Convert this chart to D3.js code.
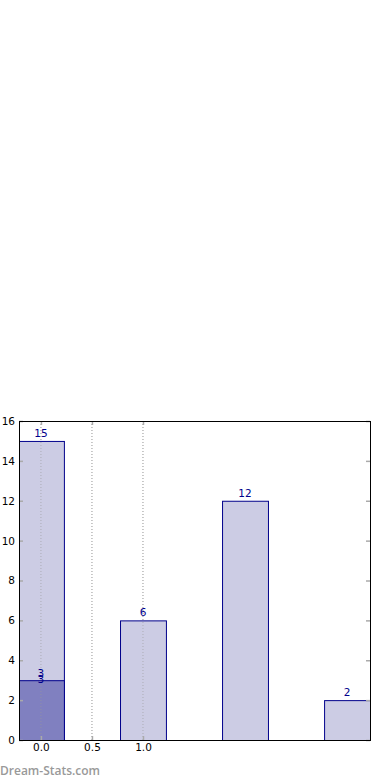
<!DOCTYPE html>
<html><head><meta charset="utf-8">
<script src="https://cdn.jsdelivr.net/npm/d3@7"></script>
<style>body{margin:0;background:#fff}svg{display:block}</style>
</head><body>
<script>
const categories = [0, 1, 2, 3];
const lightValues = [15, 6, 12, 2];
const darkCategories = [0];
const darkValues = [3];
const xTicks = [0.0, 0.5, 1.0];
const yTicks = [0, 2, 4, 6, 8, 10, 12, 14, 16];

const W = 390, H = 780;
const L = 19, R = 370, T = 421, B = 740;
const barW = 0.45;

const svg = d3.select("body").append("svg").attr("width", W).attr("height", H);
const x = d3.scaleLinear().domain([-0.215, 3.225]).range([L, R]);
const y = d3.scaleLinear().domain([0, 16]).range([B, T]);

svg.append("defs").append("clipPath").attr("id", "plot")
  .append("rect").attr("x", L + 0.5).attr("y", T).attr("width", R - L).attr("height", B - T + 1);

// grid
svg.append("g").selectAll("line").data(xTicks).join("line")
  .attr("x1", d => x(d)).attr("x2", d => x(d)).attr("y1", T).attr("y2", B)
  .attr("stroke", "#bbb").attr("stroke-width", 1).attr("stroke-dasharray", "1,2");

const plot = svg.append("g").attr("clip-path", "url(#plot)");
// bars
const lightData = categories.map((c, i) => ({c, v: lightValues[i]}));
plot.append("g").selectAll("rect").data(lightData).join("rect")
  .attr("x", d => x(d.c - barW / 2) + 0.5).attr("width", d => x(barW) - x(0))
  .attr("y", d => y(d.v) + 0.5).attr("height", d => y(0) - y(d.v))
  .attr("fill", "#ccccE4").attr("stroke", "#00008b").attr("stroke-width", 1);
const darkData = darkCategories.map((c, i) => ({c, v: darkValues[i]}));
plot.append("g").selectAll("rect").data(darkData).join("rect")
  .attr("x", d => x(d.c - barW / 2) + 0.5).attr("width", d => x(barW) - x(0))
  .attr("y", d => y(d.v) + 0.5).attr("height", d => y(0) - y(d.v))
  .attr("fill", "#8080c0").attr("stroke", "#00008b").attr("stroke-width", 1);

// grid again over bars (reference shows dotted lines through bars)
svg.append("g").selectAll("line").data(xTicks).join("line")
  .attr("x1", d => x(d)).attr("x2", d => x(d)).attr("y1", T).attr("y2", B)
  .attr("stroke", "#999").attr("stroke-opacity", 0.6).attr("stroke-width", 1).attr("stroke-dasharray", "1,2");

// value labels
const lab = (sel) => sel.attr("text-anchor", "middle").attr("font-family", "DejaVu Sans")
  .attr("font-size", 10.5).attr("fill", "#00008b");
svg.append("g").selectAll("text").data(lightData).join("text")
  .attr("x", d => x(d.c)).attr("y", d => y(d.v) - 4).call(lab).text(d => d.v);
svg.append("g").selectAll("text").data(darkData).join("text")
  .attr("x", d => x(d.c)).attr("y", d => y(d.v) - 3).call(lab).text(d => d.v);
svg.append("g").selectAll("text").data(darkData).join("text")
  .attr("x", d => x(d.c)).attr("y", d => y(d.v) + 3).call(lab).text(d => d.v);

// axes ticks (inside, gray)
const yAxisL = d3.axisLeft(y).tickValues(yTicks).tickFormat(d3.format("d")).tickSizeInner(-4).tickSizeOuter(0).tickPadding(4);
const gl = svg.append("g").attr("transform", `translate(${L},0)`).call(yAxisL);
const yAxisR = d3.axisRight(y).tickValues(yTicks).tickFormat("").tickSizeInner(-4).tickSizeOuter(0);
const gr = svg.append("g").attr("transform", `translate(${R},0)`).call(yAxisR);
const xAxisB = d3.axisBottom(x).tickValues(xTicks).tickFormat(d3.format(".1f")).tickSizeInner(-4).tickSizeOuter(0).tickPadding(4);
const gb = svg.append("g").attr("transform", `translate(0,${B})`).call(xAxisB);
const xAxisT = d3.axisTop(x).tickValues(xTicks).tickFormat("").tickSizeInner(-4).tickSizeOuter(0);
const gt = svg.append("g").attr("transform", `translate(0,${T})`).call(xAxisT);
[gl, gr, gb, gt].forEach(g => {
  g.select(".domain").remove();
  g.selectAll(".tick line").attr("stroke", "#aaa").attr("stroke-width", 1.5);
  g.selectAll(".tick text").attr("font-family", "DejaVu Sans").attr("font-size", 10.5).attr("fill", "#000");
});

// frame
svg.append("rect").attr("x", L + 0.5).attr("y", T + 0.5).attr("width", R - L).attr("height", B - T)
  .attr("fill", "none").attr("stroke", "#000").attr("stroke-width", 1);

// watermark
svg.append("text").attr("x", 0).attr("y", 775).attr("font-family", "Open Sans").attr("font-weight", 600)
  .attr("font-size", 12).attr("fill", "#999").text("Dream-Stats.com");
</script>
</body></html>
